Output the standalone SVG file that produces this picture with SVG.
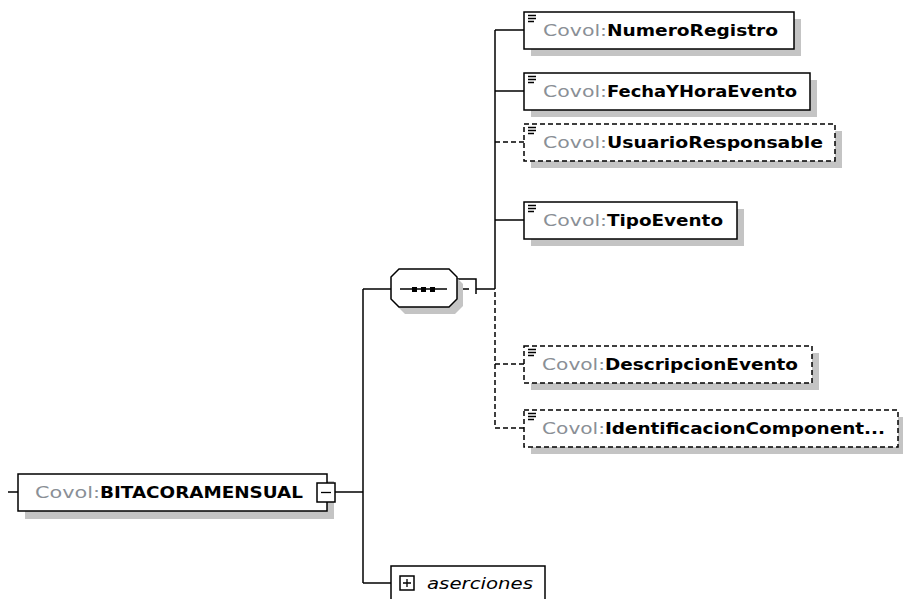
<svg xmlns="http://www.w3.org/2000/svg" width="903" height="599" viewBox="0 0 903 599">
<defs>
<style>
.bg{fill:#fff}
.box{fill:#fff;stroke:#000;stroke-width:1.5}
.opt{fill:#fff;stroke:#000;stroke-width:1.5;stroke-dasharray:5 3}
.sh{fill:#c4c4c4}
.ln{fill:none;stroke:#000;stroke-width:1.5}
.dl{fill:none;stroke:#000;stroke-width:1.5;stroke-dasharray:5 3}
.t{font-family:"DejaVu Sans","Liberation Sans",sans-serif;font-size:16px}
.p{fill:#8a8f96}
.n{fill:#000;font-weight:bold}
.ic{stroke:#000;stroke-width:1.3}
</style>
</defs>
<rect class="bg" x="0" y="0" width="903" height="599"/>

<g id="connectors">
<line class="ln" x1="8" y1="492" x2="18" y2="492"/>
<line class="ln" x1="335" y1="492" x2="363" y2="492"/>
<line class="ln" x1="363" y1="289" x2="363" y2="583"/>
<line class="ln" x1="363" y1="289" x2="391" y2="289"/>
<line class="ln" x1="363" y1="583" x2="391" y2="583"/>
<path class="ln" d="M457,279 H476 V294"/>
<line class="ln" x1="459" y1="289" x2="469" y2="289"/>
<line class="ln" x1="476" y1="289" x2="495" y2="289"/>
<line class="ln" x1="495" y1="30" x2="495" y2="289"/>
<line class="dl" x1="495" y1="292" x2="495" y2="428"/>
<line class="ln" x1="495" y1="30" x2="524" y2="30"/>
<line class="ln" x1="495" y1="91" x2="524" y2="91"/>
<line class="dl" x1="495" y1="142" x2="524" y2="142"/>
<line class="ln" x1="495" y1="220" x2="524" y2="220"/>
<line class="dl" x1="495" y1="364" x2="524" y2="364"/>
<line class="dl" x1="495" y1="428" x2="524" y2="428"/>
</g>

<g id="BITACORAMENSUAL">
<rect class="sh" x="25" y="481" width="309" height="38"/>
<rect class="box" x="18" y="474" width="309" height="37"/>
<text class="t" x="35" y="498"><tspan class="p" textLength="65" lengthAdjust="spacingAndGlyphs">Covol:</tspan><tspan class="n" x="100" textLength="203" lengthAdjust="spacingAndGlyphs">BITACORAMENSUAL</tspan></text>
<rect class="box" x="317" y="483" width="18" height="19"/>
<line class="ic" x1="321" y1="492.5" x2="331" y2="492.5"/>
</g>

<g id="sequence">
<polygon class="sh" points="397,284 405,276 455,276 463,284 463,306 455,314 405,314 397,306"/>
<polygon class="box" points="391,277 399,269 449,269 457,277 457,299 449,307 399,307 391,299"/>
<line class="ln" x1="400" y1="289" x2="447" y2="289"/>
<rect x="412" y="287" width="5" height="5" fill="#000"/>
<rect x="421" y="287" width="5" height="5" fill="#000"/>
<rect x="430" y="287" width="5" height="5" fill="#000"/>
</g>

<g id="NumeroRegistro">
<rect class="sh" x="531" y="19" width="270" height="37"/>
<rect class="box" x="524" y="12" width="270" height="37"/>
<path class="ic" d="M528,15.5h8M528,18.5h8M528,21.5h6"/>
<text class="t" x="543" y="36"><tspan class="p" textLength="64" lengthAdjust="spacingAndGlyphs">Covol:</tspan><tspan class="n" x="607" textLength="171" lengthAdjust="spacingAndGlyphs">NumeroRegistro</tspan></text>
</g>

<g id="FechaYHoraEvento">
<rect class="sh" x="531" y="80" width="286" height="37"/>
<rect class="box" x="524" y="73" width="286" height="37"/>
<path class="ic" d="M528,76.5h8M528,79.5h8M528,82.5h6"/>
<text class="t" x="543" y="97"><tspan class="p" textLength="64" lengthAdjust="spacingAndGlyphs">Covol:</tspan><tspan class="n" x="607" textLength="190" lengthAdjust="spacingAndGlyphs">FechaYHoraEvento</tspan></text>
</g>

<g id="UsuarioResponsable">
<rect class="sh" x="531" y="131" width="311" height="37"/>
<rect class="opt" x="524" y="124" width="311" height="37"/>
<path class="ic" d="M528,127.5h8M528,130.5h8M528,133.5h6"/>
<text class="t" x="543" y="148"><tspan class="p" textLength="64" lengthAdjust="spacingAndGlyphs">Covol:</tspan><tspan class="n" x="607" textLength="216" lengthAdjust="spacingAndGlyphs">UsuarioResponsable</tspan></text>
</g>

<g id="TipoEvento">
<rect class="sh" x="531" y="209" width="213" height="37"/>
<rect class="box" x="524" y="202" width="213" height="37"/>
<path class="ic" d="M528,205.5h8M528,208.5h8M528,211.5h6"/>
<text class="t" x="543" y="226"><tspan class="p" textLength="64" lengthAdjust="spacingAndGlyphs">Covol:</tspan><tspan class="n" x="607" textLength="116" lengthAdjust="spacingAndGlyphs">TipoEvento</tspan></text>
</g>

<g id="DescripcionEvento">
<rect class="sh" x="531" y="353" width="288" height="37"/>
<rect class="opt" x="524" y="346" width="288" height="37"/>
<path class="ic" d="M528,349.5h8M528,352.5h8M528,355.5h6"/>
<text class="t" x="542" y="370"><tspan class="p" textLength="63" lengthAdjust="spacingAndGlyphs">Covol:</tspan><tspan class="n" x="605" textLength="193" lengthAdjust="spacingAndGlyphs">DescripcionEvento</tspan></text>
</g>

<g id="IdentificacionComponente">
<rect class="sh" x="531" y="417" width="374" height="37"/>
<rect class="opt" x="524" y="410" width="374" height="37"/>
<path class="ic" d="M528,413.5h8M528,416.5h8M528,419.5h6"/>
<text class="t" x="542" y="434"><tspan class="p" textLength="63" lengthAdjust="spacingAndGlyphs">Covol:</tspan><tspan class="n" x="605" textLength="280" lengthAdjust="spacingAndGlyphs">IdentificacionComponent...</tspan></text>
</g>

<g id="aserciones">
<rect class="box" x="391" y="566" width="154" height="40"/>
<rect class="box" x="400" y="576" width="14" height="14"/>
<path class="ic" d="M403,583h8M407,579v8"/>
<text class="t" x="427" y="589" font-style="italic" fill="#000" textLength="106" lengthAdjust="spacingAndGlyphs">aserciones</text>
</g>
</svg>
